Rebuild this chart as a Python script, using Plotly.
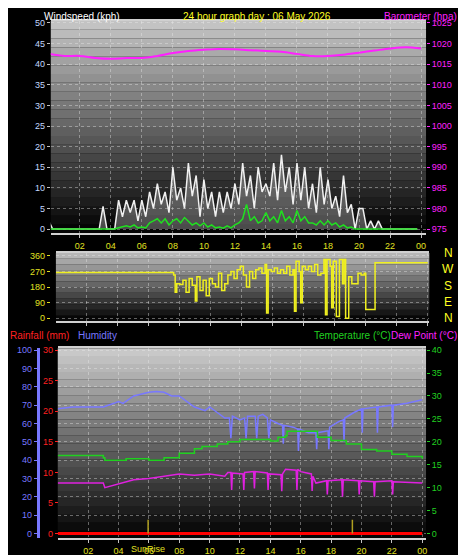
import plotly.graph_objects as go

# windspeed, 15 minute steps from 00:00
wind_hours = [i * 0.25 for i in range(96)]
gust_kph = [2, 0, 0, 0, 0, 0, 0, 0, 0, 0, 0, 0, 0, 0, 5.5, 0,
            0, 0, 7, 3, 7, 4, 7, 2, 7, 3, 9, 5, 11, 6, 9, 4,
            15, 7, 10, 5, 16, 8, 13, 3, 12, 5, 9, 3, 9, 4, 9, 5,
            11, 6, 16, 8, 13, 5, 15, 9, 11, 8, 16, 7, 18, 9, 15, 6,
            16, 7, 15, 5, 11, 4, 15, 6, 12, 5, 8, 3, 13, 4, 6, 0,
            5, 5, 0, 2, 0, 2, 0, 0, 0, 0, 0, 0, 0, 0, 0, 0]
avg_kph = [0] * 16 + [0, 0, 0.3, 0.5, 0.8, 0.5, 1, 0.3, 0.5, 0.3, 1.5, 2, 2.5, 1.5, 2.5, 1,
           2, 2.5, 1.5, 2.8, 2, 1, 1.5, 0.8, 1.5, 0.5, 1, 0.3, 0.5, 0.2, 0.8, 0.3,
           1, 1.5, 2.5, 6, 2, 3, 1.5, 2, 4, 2, 3, 1.5, 4.5, 2, 3, 1.5,
           4.5, 2, 3, 1.5, 1.5, 1, 2, 1, 2, 1, 1.5, 0.5, 1, 0.3, 0.5, 0] + [0] * 16

baro_hours = list(range(25))
baro_hpa = [1017.5, 1017, 1017, 1016.5, 1016.3, 1016.5, 1016.5, 1017, 1017.7, 1018.2, 1018.5,
            1018.7, 1018.6, 1018.4, 1018.2, 1018, 1017.5, 1017, 1017, 1017.3, 1017.8, 1018.3,
            1018.8, 1019.1, 1018.8]

dir_hours = [0, 7.4, 7.6, 7.7, 7.8, 8.0, 8.2, 8.4, 8.6, 8.8, 9.0, 9.1, 9.3, 9.5, 9.7, 9.9, 10.1,
             10.3, 10.5, 10.7, 10.9, 11.1, 11.3, 11.5, 11.7, 11.9, 12.1, 12.3, 12.5, 12.7, 12.9,
             13.1, 13.3, 13.5, 13.6, 13.7, 13.9, 14.1, 14.3, 14.5, 14.7, 14.9, 15.1, 15.3, 15.4,
             15.5, 15.7, 15.8, 15.9, 16.1, 16.3, 16.5, 16.7, 16.9, 17.1, 17.3, 17.4, 17.5, 17.7,
             17.8, 17.9, 18.1, 18.3, 18.5, 18.6, 18.7, 18.9, 19.1, 19.3, 19.5, 19.7, 19.9, 20.0,
             20.3, 20.5, 20.6, 24]
dir_deg = [265, 265, 250, 150, 200, 195, 220, 150, 230, 190, 100, 240, 160, 220, 130, 230, 200,
           180, 260, 160, 200, 250, 270, 230, 280, 300, 250, 180, 270, 230, 280,
           290, 260, 310, 30, 280, 270, 290, 260, 280, 260, 300, 250, 280, 40,
           330, 270, 90, 300, 280, 300, 270, 310, 250, 260, 340, 20, 340, 300,
           60, 330, 10, 340, 200, 340, 0, 240, 200, 200, 260, 250, 260, 50,
           50, 50, 320, 320]

hum_hours = [0, 1, 2, 3, 3.7, 4, 4.3, 5, 6, 6.5, 7, 7.5, 8, 8.7, 9, 9.7, 10, 10.5, 11, 11.3, 11.4,
             11.5, 12, 12.3, 12.4, 12.5, 13, 13.1, 13.2, 13.5, 13.8, 13.9, 14, 14.5, 14.8, 14.85,
             14.9, 15.5, 15.8, 15.85, 15.9, 16.5, 17, 17.05, 17.1, 17.8, 17.85, 17.9, 18.5, 18.8,
             18.85, 18.9, 19.5, 20, 20.05, 20.1, 21, 21.05, 21.1, 22, 22.05, 22.1, 23, 24]
humidity = [68, 69, 69, 69, 71, 72, 71, 75, 77, 77.5, 77, 75, 75, 71, 69, 67, 69, 66, 63, 63, 52,
            64, 62, 63, 52, 64, 64, 52, 64, 65, 63, 52, 62, 60, 59, 49,
            59, 58, 57, 45, 57, 55, 55, 46, 55, 56, 46, 58, 61, 62,
            50, 63, 66, 68, 55, 68, 69, 55, 69, 70, 58, 70, 71, 73]

temp_hours = [0, 3, 3.1, 4, 4.5, 6, 7, 8, 9, 9.5, 10, 10.5, 11, 11.2, 12, 13, 14, 14.5, 15, 15.1,
              16, 17, 17.1, 17.5, 18, 19, 20, 21, 22, 23, 24]
temp_c = [17, 16.5, 16, 16, 16.3, 16, 16.5, 17.5, 18.5, 19, 19, 19.5, 19.5, 20, 20.5, 20.5, 20.2,
          21, 21.3, 22.3, 22.3, 22.3, 21, 21, 20.3, 19.5, 18.3, 18, 17.3, 16.8, 16.3]

dew_hours = [0, 3, 3.1, 4, 5, 6, 7, 8, 9, 10, 11, 11.2, 11.4, 11.45, 11.5, 12.2, 12.25, 12.3, 12.9,
             12.95, 13, 13.8, 13.85, 13.9, 14.7, 14.75, 14.8, 15, 15.7, 15.75, 15.8, 16, 16.7,
             16.75, 16.8, 17, 17.7, 17.75, 17.8, 18.7, 18.75, 18.8, 19.8, 19.85, 19.9, 20.8,
             20.85, 20.9, 22, 22.05, 22.1, 24]
dew_c = [11, 11, 10, 10.8, 11.7, 12, 12.5, 13, 12.7, 13, 12.5, 13.3, 13.3, 9.5, 13.2, 13, 9.5, 13.3,
         13.5, 9.8, 13.5, 13.2, 9.5, 13, 12.8, 9.2, 13, 14, 13.8, 9.5, 14, 13.5, 13,
         9.3, 12.5, 11, 11.5, 8.5, 11.5, 11.7, 8, 11.7, 11.5, 8.5, 11.5, 11.3,
         8, 11.3, 11.5, 8.5, 11.3, 11]

rain_hours = [0, 24]
rain_mm = [0, 0]
sun_hours = [5.95, 19.4]

hour_ticks = list(range(2, 25, 2))
hour_labels = ["02", "04", "06", "08", "10", "12", "14", "16", "18", "20", "22", "00"]

FONT = "Liberation Sans"
fig = go.Figure()

fig.add_trace(go.Scatter(x=wind_hours, y=gust_kph, mode="lines", line=dict(color="#f0f0f0", width=1.5),
                         fill="tozeroy", fillcolor="rgba(210,210,210,0.35)", xaxis="x", yaxis="y"))
fig.add_trace(go.Scatter(x=wind_hours, y=avg_kph, mode="lines", line=dict(color="#20e020", width=1.5),
                         xaxis="x", yaxis="y"))
fig.add_trace(go.Scatter(x=baro_hours, y=baro_hpa, mode="lines", line=dict(color="#ff20ff", width=2, shape="spline"),
                         xaxis="x", yaxis="y2"))
fig.add_trace(go.Scatter(x=dir_hours, y=dir_deg, mode="lines", line=dict(color="#f0f020", width=1.5, shape="hv"),
                         xaxis="x2", yaxis="y3"))
fig.add_trace(go.Scatter(x=rain_hours, y=rain_mm, mode="lines", line=dict(color="#ff0000", width=3),
                         xaxis="x3", yaxis="y5"))
fig.add_trace(go.Scatter(x=hum_hours, y=humidity, mode="lines", line=dict(color="#7878ff", width=1.5),
                         xaxis="x3", yaxis="y4"))
fig.add_trace(go.Scatter(x=temp_hours, y=temp_c, mode="lines", line=dict(color="#20d020", width=1.5, shape="hv"),
                         xaxis="x3", yaxis="y6"))
fig.add_trace(go.Scatter(x=dew_hours, y=dew_c, mode="lines", line=dict(color="#e020e0", width=1.5),
                         xaxis="x3", yaxis="y6"))
for h in sun_hours:
    fig.add_trace(go.Scatter(x=[h, h], y=[0, 3], mode="lines", line=dict(color="#b0a020", width=1.5),
                             xaxis="x3", yaxis="y6"))

# gradient backgrounds
def bands(yref, xref, top, n=24):
    for i in range(n):
        v = int(top * (i + 0.5) / n)
        fig.add_shape(type="rect", xref=xref + " domain", yref=yref + " domain",
                      x0=0, x1=1, y0=i / n, y1=(i + 1) / n, fillcolor=f"rgb({v},{v},{v})",
                      line_width=0, layer="below")

bands("y", "x", 200)
bands("y3", "x2", 190, 12)
bands("y4", "x3", 205)

grid = dict(showgrid=True, gridcolor="rgba(235,235,235,0.4)", griddash="dot", gridwidth=1)
tickf = dict(family=FONT, size=9)
xcommon = dict(tickvals=hour_ticks, ticktext=hour_labels, ticks="outside", ticklen=3,
               tickcolor="#c0c0c0", showline=True, linecolor="#d0d0d0", linewidth=2, mirror=True,
               zeroline=False, **grid)

fig.update_layout(
    width=466, height=555, margin=dict(l=0, r=0, t=0, b=0), showlegend=False,
    paper_bgcolor="black", plot_bgcolor="black",
    xaxis=dict(domain=[0.092, 0.899], range=[0.13, 24.32], anchor="y",
               tickfont=dict(color="#e0e020", **tickf), **xcommon),
    yaxis=dict(domain=[0.596, 0.982], range=[-1, 50.5], dtick=5, ticks="outside", ticklen=3,
               tickcolor="#c0c0c0", tickfont=dict(color="#c0d8ff", **tickf), zeroline=False, **grid),
    yaxis2=dict(overlaying="y", side="right", anchor="x", range=[974, 1025.5], dtick=5, ticks="outside",
                ticklen=3, tickcolor="#ff20ff", tickfont=dict(color="#ff20ff", **tickf), showgrid=False,
                zeroline=False),
    xaxis2=dict(domain=[0.103, 0.906], range=[0, 24.1], anchor="y3", showticklabels=False,
                **{k: v for k, v in xcommon.items() if k not in ("tickvals", "ticktext")}, tickvals=hour_ticks),
    yaxis3=dict(domain=[0.436, 0.560], range=[-17, 377], tickvals=[0, 90, 180, 270, 360], ticks="outside",
                ticklen=3, tickcolor="#e0e020", tickfont=dict(color="#e0e020", **tickf), zeroline=False, **grid),
    xaxis3=dict(domain=[0.107, 0.899], range=[0, 24.25], anchor="y4",
                tickfont=dict(color="#e0e020", **tickf), **xcommon),
    yaxis4=dict(domain=[0.041, 0.387], range=[-2.7, 101.1], dtick=10, anchor="free", position=0.064,
                showline=True, linecolor="#7878ff", linewidth=3, ticks="outside", ticklen=3,
                tickcolor="#7878ff", tickfont=dict(color="#7878ff", **tickf), zeroline=False, **grid),
    yaxis5=dict(overlaying="y4", range=[-0.81, 30.33], dtick=5, anchor="free", position=0.107,
                ticks="outside", ticklen=3, tickcolor="#ff2020", tickfont=dict(color="#ff2020", **tickf),
                showgrid=False, zeroline=False),
    yaxis6=dict(overlaying="y4", side="right", anchor="x3", range=[-1.08, 40.43], dtick=5,
                ticks="outside", ticklen=3, tickcolor="#20d020", tickfont=dict(color="#20d020", **tickf),
                showgrid=False, zeroline=False),
)

def label(text, x, y, color, size=10, xanchor="left"):
    fig.add_annotation(text=text, x=x, y=y, xref="paper", yref="paper", showarrow=False,
                       xanchor=xanchor, yanchor="middle", font=dict(family=FONT, size=size, color=color))

label("Windspeed (kph)", 34 / 466, 1 - 6 / 555, "white")
label("24 hour graph day : 06 May 2026", 250 / 466, 1 - 6 / 555, "#ffff20", xanchor="center")
label("Barometer (hpa)", 0.97, 1 - 6 / 555, "#ff20ff", xanchor="right")
for i, letter in enumerate(["N", "W", "S", "E", "N"]):
    label(letter, 441 / 466, 1 - (244 + i * 16.5) / 555, "#ffff20", size=12, xanchor="center")
label("Rainfall (mm)", 0, 1 - 327 / 555, "#ff2020")
label("Humidity", 68 / 466, 1 - 327 / 555, "#7878ff")
label("Temperature (°C)", 305 / 466, 1 - 327 / 555, "#20d020")
label("Dew Point (°C)", 0.97, 1 - 327 / 555, "#ff20ff", xanchor="right")
label("SunRise", 140 / 466, 1 - 543 / 555, "#e0e020", size=9, xanchor="center")

fig.write_html("out.html")
